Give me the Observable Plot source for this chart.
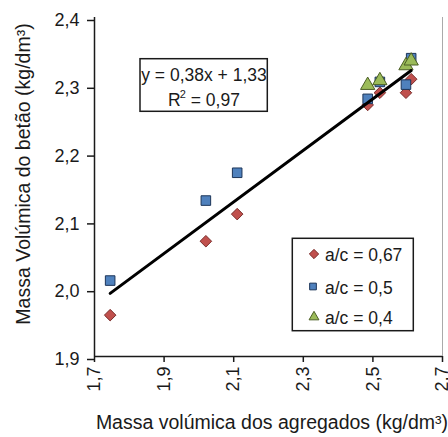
<!DOCTYPE html>
<html>
<head>
<meta charset="utf-8">
<script src="https://cdn.jsdelivr.net/npm/d3@7"></script>
<script src="https://cdn.jsdelivr.net/npm/@observablehq/plot@0.6"></script>
<style>
  html, body { margin: 0; padding: 0; background: white; }
  #chart { width: 448px; height: 437px; overflow: hidden; }
</style>
</head>
<body>
<div id="chart"></div>
<script>
// ---- data ----
const seriesNames = ["a/c = 0,67", "a/c = 0,5", "a/c = 0,4"];
const x067 = [1.745, 2.02, 2.11, 2.485, 2.52, 2.595, 2.61];
const y067 = [1.961, 2.07, 2.11, 2.271, 2.289, 2.289, 2.309];
const x05  = [1.745, 2.02, 2.11, 2.485, 2.52, 2.595, 2.61];
const y05  = [2.012, 2.13, 2.171, 2.28, 2.305, 2.301, 2.34];
const x04  = [2.485, 2.52, 2.595, 2.61];
const y04  = [2.300, 2.307, 2.329, 2.336];
const trendSlope = 0.38, trendIntercept = 1.33;
const trendX = [1.745, 2.61];
const equationText = "y = 0,38x + 1,33";
const r2Text = "0,97";
const xTicks = [1.7, 1.9, 2.1, 2.3, 2.5, 2.7];
const yTicks = [1.9, 2.0, 2.1, 2.2, 2.3, 2.4];
const xLabel = "Massa volúmica dos agregados (kg/dm³)";
const yLabel = "Massa Volúmica do betão (kg/dm³)";

const fmt = d => d3.format(".1f")(d).replace(".", ",");
const toPts = (xs, ys) => xs.map((x, i) => ({x, y: ys[i]}));
const s067 = toPts(x067, y067), s05 = toPts(x05, y05), s04 = toPts(x04, y04);
const trend = trendX.map(x => ({x, y: trendSlope * x + trendIntercept}));

const FONT = "'Liberation Sans', Arial, sans-serif";
const styles = [
  {symbol: "diamond2", fill: "#c0504d", stroke: "#7a2e2c"},
  {symbol: "square", fill: "#4f81bd", stroke: "#1c3559"},
  {symbol: "triangle", fill: "#9bbb59", stroke: "#4b5e24"}
];

const plot = Plot.plot({
  width: 448, height: 437,
  marginLeft: 94, marginRight: 6, marginTop: 17, marginBottom: 81,
  x: {domain: [1.7, 2.7]},
  y: {domain: [1.9, 2.4]},
  style: {fontFamily: FONT, fontSize: "18px", color: "#1a1a1a", background: "white"},
  marks: [
    Plot.ruleX([2.7], {stroke: "#aaa", strokeWidth: 1}),
    Plot.axisY({ticks: yTicks, tickFormat: fmt, tickSize: 7, tickPadding: 8, label: null, strokeWidth: 1.5, dy: 3}),
    Plot.axisX({ticks: xTicks, tickFormat: fmt, tickSize: 6, tickPadding: 4, tickRotate: -90, label: null, strokeWidth: 1.5}),
    Plot.ruleX([1.7], {stroke: "#1a1a1a", strokeWidth: 1.5}),
    Plot.ruleY([1.9], {stroke: "#1a1a1a", strokeWidth: 1.5}),
    Plot.dot(s067, {x: "x", y: "y", symbol: () => styles[0].symbol, r: 5.2, fill: styles[0].fill, stroke: styles[0].stroke, strokeWidth: 1}),
    Plot.dot(s05, {x: "x", y: "y", symbol: () => styles[1].symbol, r: 5.4, fill: styles[1].fill, stroke: styles[1].stroke, strokeWidth: 1}),
    Plot.dot(s04, {x: "x", y: "y", symbol: () => styles[2].symbol, r: 5.3, fill: styles[2].fill, stroke: styles[2].stroke, strokeWidth: 1}),
    Plot.line(trend, {x: "x", y: "y", stroke: "black", strokeWidth: 3})
  ]
});
document.getElementById("chart").appendChild(plot);

const svg = d3.select(plot);
// axis titles
svg.append("text")
  .attr("transform", "translate(23,174) rotate(-90)")
  .attr("text-anchor", "middle").attr("dominant-baseline", "central")
  .attr("font-family", FONT).attr("font-size", 19.5).attr("fill", "#1a1a1a")
  .text(yLabel);
svg.append("text")
  .attr("x", 272).attr("y", 429)
  .attr("text-anchor", "middle")
  .attr("font-family", FONT).attr("font-size", 19.5).attr("fill", "#1a1a1a")
  .text(xLabel);

// equation box
const eq = svg.append("g");
eq.append("rect").attr("x", 140).attr("y", 58.7).attr("width", 127.3).attr("height", 52.6)
  .attr("fill", "white").attr("stroke", "#1a1a1a").attr("stroke-width", 1.5);
eq.append("text").attr("x", 204).attr("y", 81).attr("text-anchor", "middle")
  .attr("font-family", FONT).attr("font-size", 17.5).attr("fill", "#1a1a1a").text(equationText);
const r2 = eq.append("text").attr("x", 204).attr("y", 106).attr("text-anchor", "middle")
  .attr("font-family", FONT).attr("font-size", 17.5).attr("fill", "#1a1a1a");
r2.append("tspan").text("R");
r2.append("tspan").attr("dy", -8).attr("dx", -1).attr("font-size", 11).text("2");
r2.append("tspan").attr("dy", 8).text(" = " + r2Text);

// legend
const lg = svg.append("g");
lg.append("rect").attr("x", 292.3).attr("y", 238.3).attr("width", 121).attr("height", 92.4)
  .attr("fill", "white").attr("stroke", "#1a1a1a").attr("stroke-width", 1.5);
const symMap = {diamond2: d3.symbolDiamond2, square: d3.symbolSquare, triangle: d3.symbolTriangle};
const rowY = [255, 287.5, 318];
const legendSizes = [55, 45, 42];
seriesNames.forEach((name, i) => {
  const st = styles[i];
  lg.append("path")
    .attr("d", d3.symbol(symMap[st.symbol], legendSizes[i])())
    .attr("transform", `translate(${i === 1 ? 313 : 314},${rowY[i] - 1})`)
    .attr("fill", st.fill).attr("stroke", st.stroke).attr("stroke-width", 1);
  lg.append("text").attr("x", 325).attr("y", rowY[i]).attr("dominant-baseline", "central")
    .attr("text-anchor", "start")
    .attr("font-family", FONT).attr("font-size", 17.5).attr("fill", "#1a1a1a").text(name);
});
</script>
</body>
</html>
